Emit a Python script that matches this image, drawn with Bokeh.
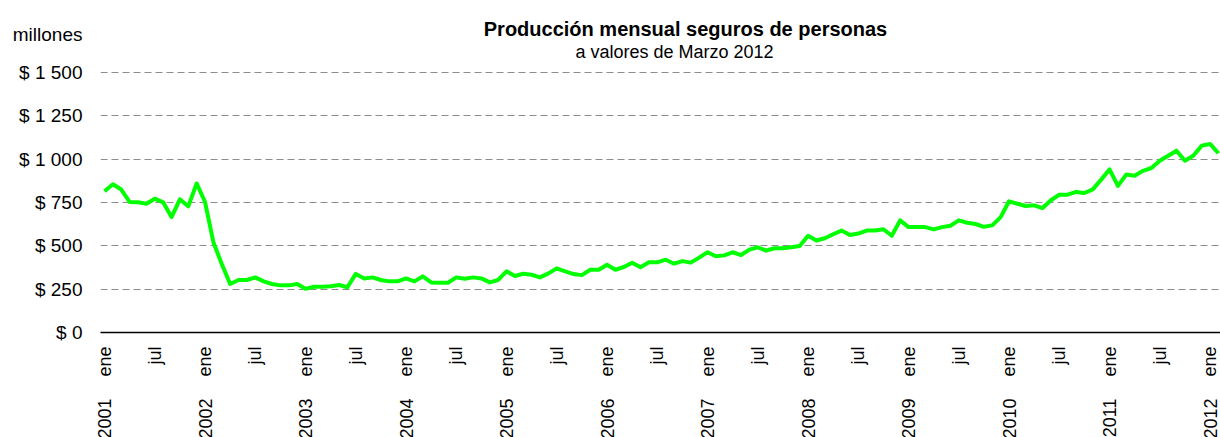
import math
from bokeh.plotting import figure
from bokeh.models import FixedTicker, LinearAxis, ColumnDataSource, Range1d, Label
from bokeh.embed import file_html
from bokeh.resources import INLINE

# ---- data (millones, monthly, ene 2001 .. feb 2012) ----
years = ["2001", "2002", "2003", "2004", "2005", "2006",
         "2007", "2008", "2009", "2010", "2011", "2012"]
half_labels = ["ene", "jul"]
v2001 = [815, 855, 825, 753, 751, 743, 772, 751, 666, 768, 728, 860]
v2002 = [753, 521, 395, 280, 303, 303, 318, 295, 280, 272, 272, 280]
v2003 = [252, 264, 264, 267, 274, 261, 338, 312, 318, 303, 295, 295]
v2004 = [312, 295, 324, 289, 287, 287, 318, 310, 318, 312, 289, 303]
v2005 = [353, 326, 339, 333, 318, 341, 370, 353, 337, 331, 362, 362]
v2006 = [391, 362, 378, 403, 376, 405, 405, 420, 397, 412, 403, 432]
v2007 = [463, 440, 445, 463, 447, 478, 492, 472, 486, 486, 492, 499]
v2008 = [558, 531, 544, 567, 588, 563, 571, 588, 588, 596, 558, 647]
v2009 = [608, 608, 608, 595, 608, 616, 647, 633, 626, 610, 618, 666]
v2010 = [757, 743, 730, 734, 718, 763, 795, 795, 811, 805, 826, 882]
v2011 = [941, 846, 911, 905, 933, 949, 991, 1020, 1049, 991, 1020, 1078]
v2012 = [1088, 1034]
y_ticks = [0, 250, 500, 750, 1000, 1250, 1500]
y_tick_labels = ["$ 0", "$ 250", "$ 500", "$ 750", "$ 1 000", "$ 1 250", "$ 1 500"]
title_text = "Producción mensual seguros de personas"
subtitle_text = "a valores de Marzo 2012"
unit_text = "millones"

values = (v2001 + v2002 + v2003 + v2004 + v2005 + v2006 + v2007 +
          v2008 + v2009 + v2010 + v2011 + v2012)
month_idx = list(range(len(values)))
src = ColumnDataSource(dict(x=month_idx, y=values))

FONT = "Liberation Sans"
FRAME_W, FRAME_H = 1120, 332
PX_PER_250 = 43.33            # vertical spacing of gridlines in pixels
y_top = 250 * FRAME_H / PX_PER_250   # frame reaches up to the top of the canvas
unit_pos = 250 * (FRAME_H - 34) / PX_PER_250  # "millones" sits above the axis

p = figure(frame_width=FRAME_W, frame_height=FRAME_H,
           x_range=Range1d(-0.48, 133.25), y_range=Range1d(0, y_top),
           output_backend="svg", toolbar_location=None,
           min_border_left=100, min_border_right=0, min_border_top=0,
           min_border_bottom=105)
p.outline_line_color = None

p.line("x", "y", source=src, line_color="#00FF00", line_width=4,
       line_join="round")

# y axis (tick labels + unit label on top)
p.yaxis.ticker = FixedTicker(ticks=y_ticks + [unit_pos])
overrides = {t: l for t, l in zip(y_ticks, y_tick_labels)}
overrides[unit_pos] = unit_text
p.yaxis.major_label_overrides = overrides
p.yaxis.axis_line_color = None
p.yaxis.major_tick_line_color = None
p.yaxis.minor_tick_line_color = None
p.yaxis.major_tick_out = 0
p.yaxis.major_tick_in = 0
p.yaxis.major_label_standoff = 18
p.yaxis.major_label_text_font = FONT
p.yaxis.major_label_text_font_size = "19px"
p.yaxis.major_label_text_color = "black"

# grid
p.xgrid.visible = False
p.ygrid.ticker = FixedTicker(ticks=y_ticks[1:])
p.ygrid.grid_line_color = "#8c8c8c"
p.ygrid.grid_line_dash = "7 4"
p.ygrid.grid_line_width = 1

# x axis: ene / jul
half_ticks = list(range(0, len(values), 6))
p.xaxis.ticker = FixedTicker(ticks=half_ticks)
p.xaxis.major_label_overrides = {t: half_labels[(t // 6) % 2] for t in half_ticks}
p.xaxis.major_label_orientation = math.pi / 2
p.xaxis.major_label_standoff = 14
p.xaxis.major_tick_out = 0
p.xaxis.major_tick_in = 0
p.xaxis.major_tick_line_color = None
p.xaxis.minor_tick_line_color = None
p.xaxis.axis_line_color = "black"
p.xaxis.axis_line_width = 1.5
p.xaxis.major_label_text_font = FONT
p.xaxis.major_label_text_font_size = "18px"
p.xaxis.major_label_text_color = "black"

# x axis: years
year_ticks = list(range(0, len(values), 12))
ax2 = LinearAxis(ticker=FixedTicker(ticks=year_ticks),
                 major_label_overrides={t: years[i] for i, t in enumerate(year_ticks)},
                 major_label_orientation=math.pi / 2,
                 major_label_standoff=19,
                 major_tick_out=0, major_tick_in=0,
                 major_tick_line_color=None, minor_tick_line_color=None,
                 axis_line_color=None,
                 major_label_text_font=FONT,
                 major_label_text_font_size="18px",
                 major_label_text_color="black")
p.add_layout(ax2, "below")

# titles (screen units, relative to the frame's lower-left corner)
p.add_layout(Label(x=585, y=FRAME_H - 28, x_units="screen", y_units="screen",
                   text=title_text, text_font=FONT, text_font_style="bold",
                   text_font_size="20px", text_align="center",
                   text_baseline="alphabetic", text_color="black"))
p.add_layout(Label(x=574, y=FRAME_H - 51, x_units="screen", y_units="screen",
                   text=subtitle_text, text_font=FONT,
                   text_font_size="18px", text_align="center",
                   text_baseline="alphabetic", text_color="black"))

open("out.html", "w").write(file_html(p, INLINE))
